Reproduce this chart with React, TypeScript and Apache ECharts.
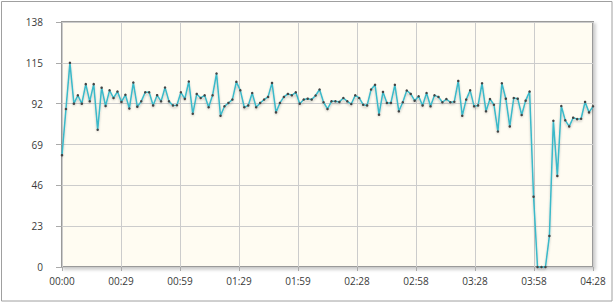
import React, { useEffect, useRef } from "react";
import * as echarts from "echarts";

const STEP_SECONDS = 2;
const X_MAX = 268;
const X_SPLITS = 9;
const Y_MAX = 138;
const Y_INTERVAL = 23;

const values: number[] = [
  63, 89, 115, 92, 96.7, 92, 103, 93.3, 103, 77.3,
  101, 90.7, 99.5, 95.2, 98.8, 93, 97, 89.3, 103.9, 90.3,
  93.3, 98.4, 98.4, 91, 96.8, 93.3, 101.1, 93.3, 91, 91.1,
  98.4, 94.7, 104.5, 86.3, 97.5, 95.2, 96.7, 90, 96.7, 109,
  85.2, 90.5, 92.4, 94.3, 104.3, 99.5, 90, 91, 98, 90,
  92.4, 94.3, 95.8, 103.7, 87.1, 92.4, 95.8, 97.5, 96.7, 98.4,
  92, 94.3, 94.8, 94.3, 96.6, 100, 92.8, 89, 93.3, 93.3,
  93, 95.2, 93.3, 91.8, 96.7, 95.2, 91.4, 91, 100, 102.6,
  85.8, 98.6, 92.4, 92.4, 102.6, 87.7, 92.8, 99.4, 97.5, 93.7,
  96.2, 91, 98, 90.5, 96.7, 95.8, 92.8, 94.6, 92.8, 93.1,
  104.8, 85.2, 94.3, 99.5, 90.5, 91, 103.5, 87.7, 94.6, 91.4,
  76.3, 103.5, 94.8, 79.2, 95.2, 94.8, 85.6, 93.7, 98.8, 39.6,
  0, 0, 0, 17.5, 82.4, 51.3, 90.7, 82.6, 79.2, 84.1,
  83.3, 83.5, 93, 87.1, 90.5,
];

const times: number[] = values.map((_, i) => i * STEP_SECONDS);

function fmtTime(v: number): string {
  const s = Math.floor(v + 1e-6);
  const m = Math.floor(s / 60);
  const r = s % 60;
  return String(m).padStart(2, "0") + ":" + String(r).padStart(2, "0");
}

const FONT = "'Open Sans', 'DejaVu Sans', sans-serif";

export default function App() {
  const ref = useRef<HTMLDivElement>(null);
  useEffect(() => {
    document.body.style.margin = "0";
    if (!ref.current) return;
    const chart = echarts.init(ref.current, undefined, { renderer: "svg" });
    chart.setOption({
      animation: false,
      backgroundColor: "#ffffff",
      graphic: [
        {
          type: "rect",
          shape: { x: 1.5, y: 1.5, width: 610.5, height: 299.5 },
          style: { fill: "none", stroke: "#a0a0a0", lineWidth: 1 },
          silent: true,
          z: -1,
        },
      ],
      grid: {
        left: 62,
        top: 22,
        right: 21,
        bottom: 37,
        show: true,
        backgroundColor: "#fffcf2",
        borderColor: "#9a9a9a",
        borderWidth: 2,
        shadowColor: "rgba(0,0,0,0.18)",
        shadowBlur: 3,
        shadowOffsetX: 2,
        shadowOffsetY: 2,
      },
      xAxis: {
        type: "value",
        min: 0,
        max: X_MAX,
        interval: X_MAX / X_SPLITS,
        axisLine: { show: false },
        axisTick: { show: true, length: 4, lineStyle: { color: "#aaaaaa" } },
        splitLine: { show: true, lineStyle: { color: "#cccccc", width: 1 } },
        axisLabel: {
          show: true,
          showMaxLabel: true,
          showMinLabel: true,
          margin: 9,
          color: "#3a3a3a",
          fontFamily: FONT,
          fontSize: 10,
          formatter: (v: number) => fmtTime(v),
        },
      },
      yAxis: {
        type: "value",
        min: 0,
        max: Y_MAX,
        interval: Y_INTERVAL,
        axisLine: { show: false },
        axisTick: { show: true, length: 6, lineStyle: { color: "#aaaaaa" } },
        splitLine: { show: true, lineStyle: { color: "#cccccc", width: 1 } },
        axisLabel: {
          margin: 19,
          color: "#3a3a3a",
          fontFamily: FONT,
          fontSize: 10,
        },
      },
      series: [
        {
          type: "line",
          data: times.map((t, i) => [t, values[i]]),
          showSymbol: true,
          showAllSymbol: true,
          symbol: "circle",
          symbolSize: 2.5,
          itemStyle: { color: "#444444" },
          lineStyle: {
            color: "#3ab9c9",
            width: 1.5,
            shadowColor: "rgba(0,0,0,0.22)",
            shadowBlur: 2,
            shadowOffsetY: 2,
          },
          clip: false,
        },
      ],
    });
    return () => chart.dispose();
  }, []);
  return <div ref={ref} style={{ width: 614, height: 304 }} />;
}
